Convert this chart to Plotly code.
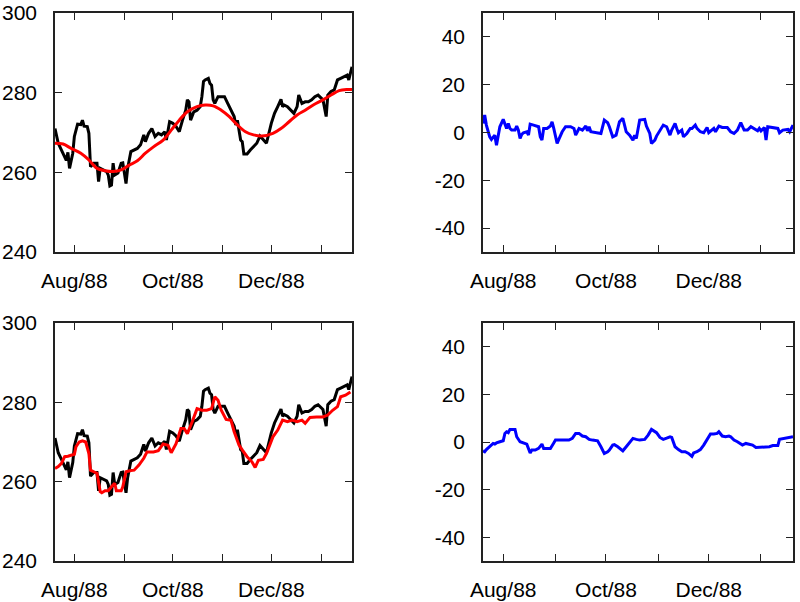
import plotly.graph_objects as go
from plotly.subplots import make_subplots

# ---- data ----
price_dates = [
    "1988-07-20", "1988-07-22", "1988-07-24", "1988-07-26", "1988-07-27", "1988-07-28", "1988-07-29", "1988-07-31",
    "1988-08-01", "1988-08-03", "1988-08-05", "1988-08-06", "1988-08-07", "1988-08-09", "1988-08-10", "1988-08-11",
    "1988-08-13", "1988-08-15", "1988-08-16", "1988-08-17", "1988-08-19", "1988-08-21", "1988-08-22", "1988-08-23",
    "1988-08-24", "1988-08-25", "1988-08-26", "1988-08-28", "1988-08-30", "1988-08-31",
    "1988-09-02", "1988-09-03", "1988-09-05", "1988-09-07", "1988-09-09", "1988-09-11", "1988-09-13", "1988-09-14",
    "1988-09-16", "1988-09-18", "1988-09-20", "1988-09-22", "1988-09-24", "1988-09-26", "1988-09-27", "1988-09-29",
    "1988-10-01", "1988-10-03", "1988-10-05", "1988-10-07", "1988-10-09", "1988-10-10", "1988-10-11", "1988-10-12",
    "1988-10-14", "1988-10-16", "1988-10-18", "1988-10-19", "1988-10-20", "1988-10-21", "1988-10-23", "1988-10-24",
    "1988-10-25", "1988-10-26", "1988-10-27", "1988-10-29", "1988-10-31",
    "1988-11-02", "1988-11-04", "1988-11-06", "1988-11-08", "1988-11-09", "1988-11-10", "1988-11-12", "1988-11-13",
    "1988-11-14", "1988-11-16", "1988-11-18", "1988-11-20", "1988-11-22", "1988-11-24", "1988-11-26", "1988-11-28",
    "1988-12-01", "1988-12-02", "1988-12-03", "1988-12-05", "1988-12-07", "1988-12-08", "1988-12-09", "1988-12-11",
    "1988-12-13", "1988-12-15", "1988-12-17", "1988-12-18", "1988-12-20", "1988-12-22", "1988-12-24", "1988-12-26",
    "1988-12-28", "1988-12-30",
    "1989-01-02", "1989-01-04", "1989-01-05", "1989-01-07", "1989-01-09", "1989-01-11", "1989-01-13", "1989-01-15",
    "1989-01-17", "1989-01-18", "1989-01-20",
]
price_values = [
    271.0, 267.3, 265.6, 264.0, 263.0, 265.0, 261.0, 264.8,
    269.0, 272.1, 272.0, 273.1, 271.6, 271.5, 269.8, 261.4,
    262.3, 262.3, 257.7, 261.0, 260.6, 260.2, 259.3, 256.6,
    256.8, 262.3, 259.3, 259.8, 262.3, 262.4,
    257.2, 261.0, 265.2, 265.6, 266.0, 266.9, 269.4, 267.7,
    269.8, 271.0, 269.0, 269.8, 269.4, 270.2, 268.1, 272.7,
    272.3, 271.5, 270.2, 273.1, 275.6, 278.2, 277.7, 273.1,
    275.2, 275.6, 276.5, 279.0, 282.8, 283.2, 283.6, 282.3,
    281.9, 278.2, 277.3, 279.0, 279.0,
    279.0, 277.3, 275.6, 274.0, 271.9, 273.1, 268.1, 267.7,
    264.6, 264.6, 265.6, 266.4, 267.3, 269.1, 268.1, 267.3,
    272.3, 273.6, 274.8, 276.5, 278.3, 276.5, 276.9, 276.5,
    275.6, 274.8, 276.5, 279.4, 277.3, 277.7, 277.7, 278.2,
    279.0, 279.4,
    278.2, 274.0, 279.4, 280.3, 280.7, 283.2, 283.6, 284.0,
    284.4, 283.2, 286.5,
]

smooth_dates = [
    "1988-07-20", "1988-07-25", "1988-07-30", "1988-08-05", "1988-08-10", "1988-08-15", "1988-08-20", "1988-08-25",
    "1988-08-30", "1988-09-04", "1988-09-09", "1988-09-14", "1988-09-19", "1988-09-25", "1988-09-30", "1988-10-05",
    "1988-10-10", "1988-10-16", "1988-10-21", "1988-10-26", "1988-10-31", "1988-11-05", "1988-11-10", "1988-11-15",
    "1988-11-20", "1988-11-25", "1988-12-02", "1988-12-07", "1988-12-12", "1988-12-17", "1988-12-22", "1988-12-27",
    "1989-01-02", "1989-01-07", "1989-01-12", "1989-01-17", "1989-01-20",
]
smooth_values = [
    267.3, 267.1, 266.0, 264.8, 263.1, 261.0, 260.4, 260.2,
    260.6, 261.8, 262.9, 264.8, 266.4, 268.1, 270.6, 273.1,
    275.2, 276.5, 276.9, 276.7, 275.6, 274.0, 271.9, 270.2,
    269.4, 269.1, 269.8, 271.0, 272.7, 274.4, 275.6, 276.9,
    278.2, 279.4, 280.5, 280.8, 280.8,
]

ma_dates = [
    "1988-07-20", "1988-07-22", "1988-07-24", "1988-07-26", "1988-07-28", "1988-07-30", "1988-08-01", "1988-08-02",
    "1988-08-04", "1988-08-06", "1988-08-08", "1988-08-10", "1988-08-11", "1988-08-13", "1988-08-15", "1988-08-17",
    "1988-08-18", "1988-08-20", "1988-08-22", "1988-08-24", "1988-08-26", "1988-08-27", "1988-08-30", "1988-08-31",
    "1988-09-02", "1988-09-05", "1988-09-07", "1988-09-10", "1988-09-13", "1988-09-15", "1988-09-19", "1988-09-22",
    "1988-09-25", "1988-09-28", "1988-09-30", "1988-10-03", "1988-10-06", "1988-10-08", "1988-10-10", "1988-10-13",
    "1988-10-16", "1988-10-19", "1988-10-22", "1988-10-25", "1988-10-27", "1988-10-29", "1988-10-31", "1988-11-03",
    "1988-11-06", "1988-11-08", "1988-11-11", "1988-11-13", "1988-11-16", "1988-11-19", "1988-11-21", "1988-11-23",
    "1988-11-26", "1988-11-28", "1988-12-02", "1988-12-05", "1988-12-08", "1988-12-11", "1988-12-14", "1988-12-17",
    "1988-12-20", "1988-12-22", "1988-12-25", "1988-12-29", "1989-01-02", "1989-01-05", "1989-01-08", "1989-01-11",
    "1989-01-13", "1989-01-16", "1989-01-19",
]
ma_values = [
    263.3, 263.8, 264.6, 266.3, 266.4, 266.7, 266.9, 268.8,
    270.0, 270.3, 270.0, 267.1, 262.9, 262.5, 262.1, 257.5,
    257.2, 257.7, 257.7, 258.7, 259.6, 257.7, 257.7, 258.7,
    262.5, 262.8, 262.9, 264.2, 265.9, 267.5, 267.5, 267.8,
    269.5, 269.2, 267.3, 269.6, 273.4, 273.4, 272.1, 275.1,
    278.4, 278.0, 278.0, 278.4, 281.4, 280.5, 278.0, 275.7,
    275.5, 272.6, 269.2, 268.0, 266.3, 265.0, 263.6, 265.4,
    265.6, 267.1, 271.3, 273.0, 275.5, 275.1, 275.5, 275.1,
    275.5, 274.7, 276.2, 276.3, 276.3, 276.8, 278.0, 278.9,
    281.4, 281.8, 282.6,
]

resid1_dates = [
    "1988-07-20", "1988-07-21", "1988-07-22", "1988-07-23", "1988-07-24", "1988-07-25", "1988-07-27", "1988-07-28",
    "1988-07-29", "1988-07-30", "1988-08-01", "1988-08-02", "1988-08-03", "1988-08-04", "1988-08-05", "1988-08-06",
    "1988-08-08", "1988-08-09", "1988-08-10", "1988-08-11", "1988-08-12", "1988-08-13", "1988-08-15", "1988-08-16",
    "1988-08-17", "1988-08-19", "1988-08-22", "1988-08-23", "1988-08-24", "1988-08-25", "1988-08-27", "1988-08-29",
    "1988-08-30", "1988-08-31", "1988-09-02", "1988-09-03", "1988-09-05", "1988-09-07", "1988-09-10", "1988-09-12",
    "1988-09-13", "1988-09-14", "1988-09-15", "1988-09-17", "1988-09-18", "1988-09-19", "1988-09-20", "1988-09-21",
    "1988-09-22", "1988-09-25", "1988-09-28", "1988-09-30", "1988-10-02", "1988-10-03", "1988-10-05", "1988-10-07",
    "1988-10-09", "1988-10-11", "1988-10-13", "1988-10-15", "1988-10-17", "1988-10-18", "1988-10-19", "1988-10-21",
    "1988-10-24", "1988-10-25", "1988-10-27", "1988-10-28", "1988-10-30", "1988-10-31", "1988-11-02", "1988-11-04",
    "1988-11-06", "1988-11-08", "1988-11-09", "1988-11-11", "1988-11-12", "1988-11-13", "1988-11-15", "1988-11-16",
    "1988-11-18", "1988-11-20", "1988-11-21", "1988-11-23", "1988-11-24", "1988-11-26", "1988-11-28", "1988-11-30",
    "1988-12-01", "1988-12-02", "1988-12-04", "1988-12-05", "1988-12-07", "1988-12-09", "1988-12-12", "1988-12-14",
    "1988-12-16", "1988-12-18", "1988-12-20", "1988-12-22", "1988-12-24", "1988-12-26", "1988-12-28", "1988-12-30",
    "1988-12-31", "1989-01-01", "1989-01-03", "1989-01-04", "1989-01-05", "1989-01-08", "1989-01-11", "1989-01-12",
    "1989-01-14", "1989-01-17", "1989-01-18", "1989-01-20",
]
resid1_values = [
    3.8, 7.3, 3.1, 0.3, -1.8, -2.9, -1.1, -5.3,
    -1.8, 2.4, 5.5, 3.1, 1.7, 3.8, 1.7, 1.0,
    1.0, 2.7, 1.0, -2.5, -0.8, -0.1, 0.3, -1.1,
    3.5, 3.1, 2.4, -1.8, -3.2, 1.7, 1.7, 2.7,
    4.5, 1.7, -4.6, -2.9, 0.3, 2.4, 2.4, 1.7,
    -1.1, 0.3, 1.7, 1.0, 1.7, 2.7, 0.7, 2.4,
    0.3, -0.1, -0.4, 5.2, 4.1, 2.4, -1.8, -1.1,
    4.5, 5.9, 0.3, -1.1, -3.2, -1.1, -2.5, 5.2,
    5.5, 2.7, -0.4, -4.6, -3.2, -1.5, 1.0, 3.1,
    2.4, -1.1, 1.0, 3.8, 1.7, -0.1, 1.0, -1.8,
    -0.4, 1.7, 1.7, 3.1, 1.7, 0.3, -0.1, 2.1,
    -0.1, 0.6, 1.7, 0.3, 2.7, 2.1, 2.1, 0.3,
    -0.4, 1.0, 4.1, 1.0, 1.0, 2.4, 1.7, 0.7,
    1.7, 0.7, 2.1, -3.2, 2.4, 2.1, 1.7, -0.1,
    1.0, 1.3, 0.3, 3.1,
]

resid2_dates = [
    "1988-07-20", "1988-07-21", "1988-07-22", "1988-07-24", "1988-07-26", "1988-07-27", "1988-07-28", "1988-07-30",
    "1988-08-01", "1988-08-02", "1988-08-03", "1988-08-04", "1988-08-05", "1988-08-08", "1988-08-09", "1988-08-11",
    "1988-08-13", "1988-08-15", "1988-08-17", "1988-08-18", "1988-08-20", "1988-08-22", "1988-08-24", "1988-08-25",
    "1988-08-27", "1988-08-29", "1988-08-31", "1988-09-01", "1988-09-05", "1988-09-09", "1988-09-11", "1988-09-13",
    "1988-09-15", "1988-09-17", "1988-09-19", "1988-09-21", "1988-09-23", "1988-09-26", "1988-09-28", "1988-09-30",
    "1988-10-02", "1988-10-03", "1988-10-05", "1988-10-06", "1988-10-08", "1988-10-10", "1988-10-11", "1988-10-13",
    "1988-10-15", "1988-10-17", "1988-10-19", "1988-10-21", "1988-10-24", "1988-10-26", "1988-10-28", "1988-10-30",
    "1988-10-31", "1988-11-02", "1988-11-04", "1988-11-06", "1988-11-08", "1988-11-09", "1988-11-11", "1988-11-13",
    "1988-11-15", "1988-11-17", "1988-11-19", "1988-11-21", "1988-11-22", "1988-11-24", "1988-11-26", "1988-11-28",
    "1988-11-30", "1988-12-02", "1988-12-04", "1988-12-06", "1988-12-07", "1988-12-09", "1988-12-11", "1988-12-13",
    "1988-12-14", "1988-12-16", "1988-12-18", "1988-12-20", "1988-12-21", "1988-12-23", "1988-12-25", "1988-12-27",
    "1988-12-29", "1989-01-01", "1989-01-04", "1989-01-06", "1989-01-08", "1989-01-11", "1989-01-12", "1989-01-14",
    "1989-01-17", "1989-01-20",
]
resid2_values = [
    -3.7, -4.1, -3.2, -1.8, -0.6, -0.9, -0.4, 0.1,
    0.5, 3.6, 4.3, 3.9, 5.3, 5.3, 2.2, 0.1,
    -0.4, -0.9, -4.6, -3.4, -3.4, -2.7, -0.9, -2.7,
    -2.7, -2.7, -0.4, 0.8, 0.8, 0.8, 1.5, 3.6,
    3.6, 2.5, 2.2, 1.1, 0.8, 0.5, -2.0, -4.8,
    -4.1, -3.4, -1.3, -1.1, -2.0, -3.2, -3.7, -2.0,
    -0.4, 1.5, 1.1, 0.8, 1.1, 2.9, 5.3, 4.3,
    3.9, 1.9, 1.1, 1.6, 2.2, 1.9, -2.0, -3.2,
    -4.1, -4.1, -4.8, -6.0, -4.6, -4.1, -3.2, -1.3,
    0.8, 3.4, 3.4, 3.6, 4.3, 2.5, 2.2, 2.5,
    2.2, 0.8, 0.1, -0.6, -1.3, -0.6, -1.1, -1.3,
    -2.3, -2.3, -2.3, -2.0, -1.5, -1.5, 1.1, 1.3,
    1.9, 2.2,
]

month_ticks = ["1988-08-01", "1988-09-01", "1988-10-01", "1988-11-01", "1988-12-01", "1989-01-01"]
month_labels = ["Aug/88", "", "Oct/88", "", "Dec/88", ""]
x_range = ["1988-07-20", "1989-01-20"]
price_ticks = [240, 260, 280, 300]
price_labels = ["240", "260", "280", "300"]
resid_ticks = [-40, -20, 0, 20, 40]
resid_labels = ["-40", "-20", "0", "20", "40"]

# ---- figure ----
fig = make_subplots(rows=2, cols=2)

LW = 3
fig.add_trace(go.Scatter(x=price_dates, y=price_values, mode="lines",
                         line=dict(color="black", width=LW)), row=1, col=1)
fig.add_trace(go.Scatter(x=smooth_dates, y=smooth_values, mode="lines",
                         line=dict(color="#ff0000", width=LW, shape="spline")), row=1, col=1)
fig.add_trace(go.Scatter(x=resid1_dates, y=resid1_values, mode="lines",
                         line=dict(color="#0000ff", width=LW)), row=1, col=2)
fig.add_trace(go.Scatter(x=price_dates, y=price_values, mode="lines",
                         line=dict(color="black", width=LW)), row=2, col=1)
fig.add_trace(go.Scatter(x=ma_dates, y=ma_values, mode="lines",
                         line=dict(color="#ff0000", width=LW)), row=2, col=1)
fig.add_trace(go.Scatter(x=resid2_dates, y=resid2_values, mode="lines",
                         line=dict(color="#0000ff", width=LW)), row=2, col=2)

W, H = 800, 602
left_dom = [55 / W, 352 / W]
right_dom = [483 / W, 793 / W]
top_dom = [(H - 252) / H, (H - 13) / H]
bot_dom = [(H - 561) / H, (H - 323) / H]

font = dict(family="Liberation Sans, Arial, Helvetica, sans-serif", size=21, color="black")
common = dict(showline=True, linecolor="#222", linewidth=1.5, mirror="allticks",
              ticks="inside", ticklen=7, tickwidth=1.2, tickcolor="#222",
              showgrid=False, zeroline=False, tickfont=font, automargin=False)

for i, (xd, yd) in enumerate([(left_dom, top_dom), (right_dom, top_dom),
                              (left_dom, bot_dom), (right_dom, bot_dom)], start=1):
    xa = "xaxis" if i == 1 else f"xaxis{i}"
    ya = "yaxis" if i == 1 else f"yaxis{i}"
    is_price = i in (1, 3)
    fig.layout[xa].update(domain=xd, range=x_range, tickmode="array",
                          tickvals=month_ticks, ticktext=month_labels,
                          ticklabelstandoff=9, **common)
    fig.layout[ya].update(domain=yd,
                          range=[240, 300] if is_price else [-50, 50],
                          tickmode="array",
                          tickvals=price_ticks if is_price else resid_ticks,
                          ticktext=price_labels if is_price else resid_labels,
                          ticklabelstandoff=12, **common)

fig.update_layout(width=W, height=H, margin=dict(l=0, r=0, t=0, b=0, autoexpand=False),
                  showlegend=False, plot_bgcolor="white", paper_bgcolor="white")

fig.write_html("out.html", config={"displayModeBar": False},
               post_script="document.body.style.margin='0';document.body.style.overflow='hidden';")
